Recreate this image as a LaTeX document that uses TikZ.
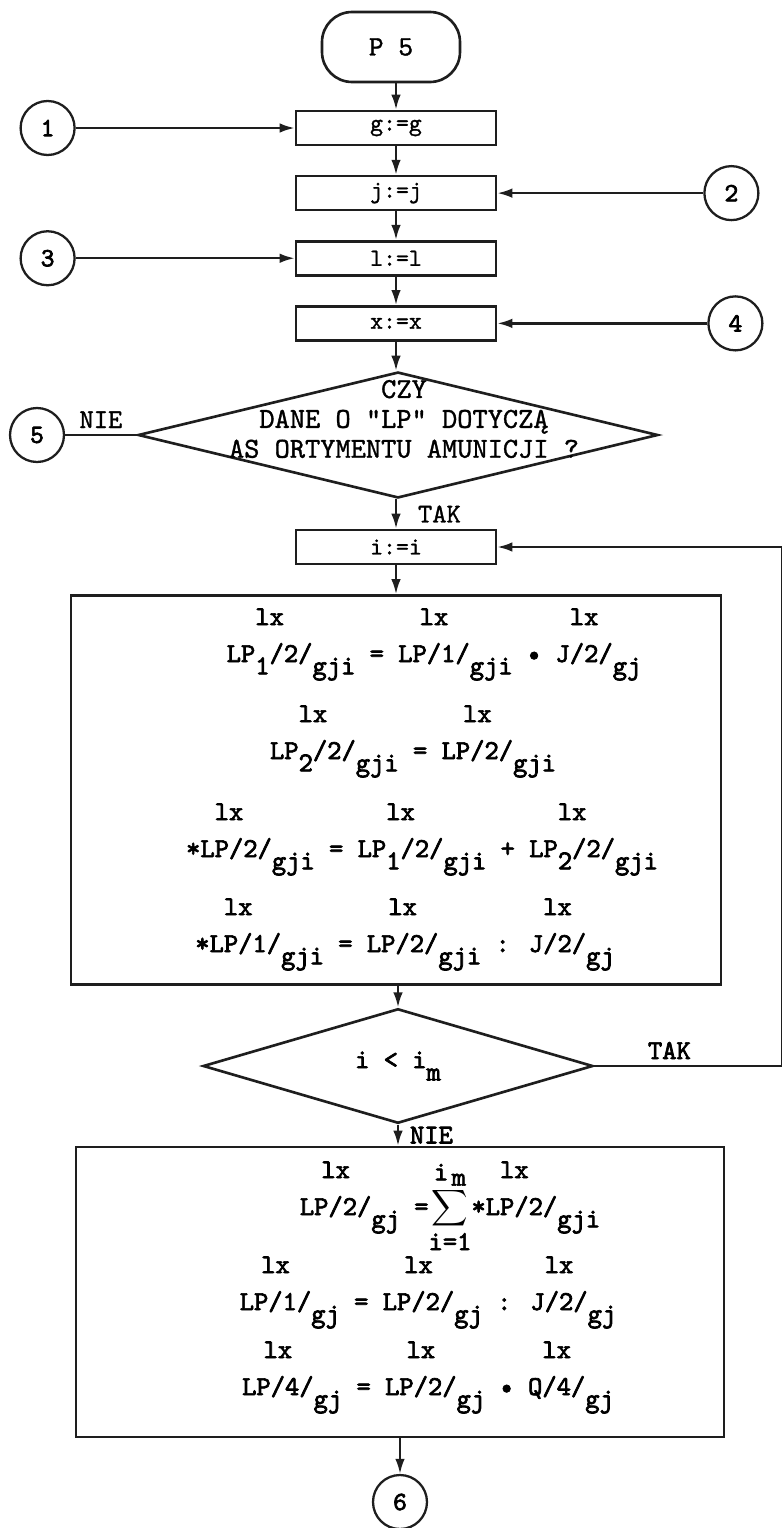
\documentclass[tikz,border=0pt]{standalone}
\usepackage{fontspec}
\usepackage{amsmath}
\usepackage{tikz}
\usetikzlibrary{arrows.meta,positioning,shapes.geometric}
\newfontfamily\maszyna[FakeBold=1.2]{lmmono10-regular.otf}
\newfontfamily\maszynab[FakeBold=2.6]{lmmono10-regular.otf}
\definecolor{tusz}{HTML}{1E1E1E}
\newcommand{\dol}[1]{\raisebox{-7pt}{#1}}
\newcommand{\lxterm}[2]{\begin{tabular}[b]{@{}c@{}}lx\\[3pt]#1\end{tabular}\dol{#2}}
\tikzset{
  blok/.style={rectangle, draw=tusz, line width=1.5pt, minimum width=4cm, minimum height=0.68cm,
               inner sep=0pt, font=\maszyna\fontsize{14}{16}\selectfont},
  duzy/.style={rectangle, draw=tusz, line width=1.5pt, inner sep=0pt},
  wzor/.style={anchor=base, inner sep=0pt, font=\maszynab\fontsize{15.5}{18}\selectfont},
  lacznik/.style={circle, draw=tusz, line width=1.3pt, minimum size=1.08cm, inner sep=0pt,
                  font=\maszynab\fontsize{15}{16}\selectfont},
  romb/.style={diamond, draw=tusz, line width=1.5pt, inner sep=0pt},
  napis/.style={font=\maszyna\fontsize{15.5}{17}\selectfont},
  napisb/.style={font=\maszynab\fontsize{15.5}{17}\selectfont},
  arr/.style={-{Latex[length=3mm,width=1.9mm]}, line width=1.3pt, draw=tusz},
  lin/.style={line width=1.3pt, draw=tusz},
}
\begin{document}
\begin{tikzpicture}[x=0.02cm, y=-0.02cm, node distance=0.57cm]
    \useasboundingbox (0,0) rectangle (781,1528);
    % poczatek i nadanie wartosci
    \node[rectangle, rounded corners=0.6cm, draw=tusz, line width=1.5pt, minimum width=2.76cm,
          minimum height=1.4cm, font=\maszyna\fontsize{16}{18}\selectfont] (p5) at (391,47) {P 5};
    \node[blok] (g) at (396,128) {g:=g};
    \node[blok, below=of g] (j) {j:=j};
    \node[blok, below=of j] (l) {l:=l};
    \node[blok, below=of l] (x) {x:=x};
    \node[lacznik, left=4.38cm of g] (c1) {1};
    \node[lacznik, right=4.12cm of j] (c2) {2};
    \node[lacznik, left=4.38cm of l] (c3) {3};
    \node[lacznik, right=4.2cm of x] (c4) {4};
    \node[lacznik] (c5) at (37,435) {5};
    \node[romb, minimum width=10.4cm, minimum height=2.52cm] (q1) at (398,435) {};
    \node[align=center, font=\maszyna\fontsize{16.5}{17}\selectfont] (q1txt) at (404,419)
      {CZY\\DANE O "LP" DOTYCZĄ\\AS ORTYMENTU AMUNICJI ?};
    \node[blok] (i) at (396,547) {i:=i};
    % obliczenia dla asortymentu
    \node[duzy, minimum width=13cm, minimum height=7.78cm] (b1) at (396,790) {};
    \node[wzor] (w1) at (434,662)
      {\lxterm{LP\dol{1}/2/}{gji} = \lxterm{LP/1/}{gji} \textbullet\ \lxterm{J/2/}{gj}};
    \node[wzor] (w2) at (413,759)
      {\lxterm{LP\dol{2}/2/}{gji} = \lxterm{LP/2/}{gji}};
    \node[wzor] (w3) at (422,857)
      {\lxterm{*LP/2/}{gji} = \lxterm{LP\dol{1}/2/}{gji} + \lxterm{LP\dol{2}/2/}{gji}};
    \node[wzor] (w4) at (405,952)
      {\lxterm{*LP/1/}{gji} = \lxterm{LP/2/}{gji} : \lxterm{J/2/}{gj}};
    \node[romb, minimum width=7.8cm, minimum height=1.96cm,
          font=\maszynab\fontsize{15.5}{17}\selectfont] (q2) at (398,1066) {i < i\dol{m}};
    % sumowanie
    \node[duzy, minimum width=12.96cm, minimum height=5.8cm] (b2) at (400,1292) {};
    \node[wzor] (v1) at (450,1215)
      {\lxterm{LP/2/}{gj} =$\displaystyle\sum\limits_{\mbox{i=1}}^{\mbox{i\kern2pt\raisebox{-3pt}{m}}}$\lxterm{*LP/2/}{gji}};
    \node[wzor] (v2) at (428,1310)
      {\lxterm{LP/1/}{gj} = \lxterm{LP/2/}{gj} : \lxterm{J/2/}{gj}};
    \node[wzor] (v3) at (428,1395)
      {\lxterm{LP/4/}{gj} = \lxterm{LP/2/}{gj} \textbullet\ \lxterm{Q/4/}{gj}};
    \node[lacznik] (c6) at (400,1502) {6};
    \coordinate (prawo) at (782,1066);
    % polaczenia
    \draw[arr] (p5.south -| g) -- (g);
    \draw[arr] (g) -- (j);
    \draw[arr] (j) -- (l);
    \draw[arr] (l) -- (x);
    \draw[arr] (x) -- (x |- q1.north);
    \draw[arr] (c1) -- (g);
    \draw[arr] (c2) -- (j);
    \draw[arr] (c3) -- (l);
    \draw[arr] (c4) -- (x);
    \draw[lin] (q1) -- node[above, napis] {NIE} (c5);
    \draw[arr] (q1.south -| i) -- node[right=0.3cm, napis] {TAK} (i);
    \draw[arr] (i) -- (b1);
    \draw[arr] (b1.south -| q2) -- (q2);
    \draw[arr] (q2) -- node[right=0.1cm, napisb] {NIE} (q2 |- b2.north);
    \draw[arr] (b2.south -| c6) -- (c6);
    \draw[arr] (q2.east) -- node[above, pos=0.4, napisb] {TAK} (prawo) |- (i.east);
\end{tikzpicture}
\end{document}
